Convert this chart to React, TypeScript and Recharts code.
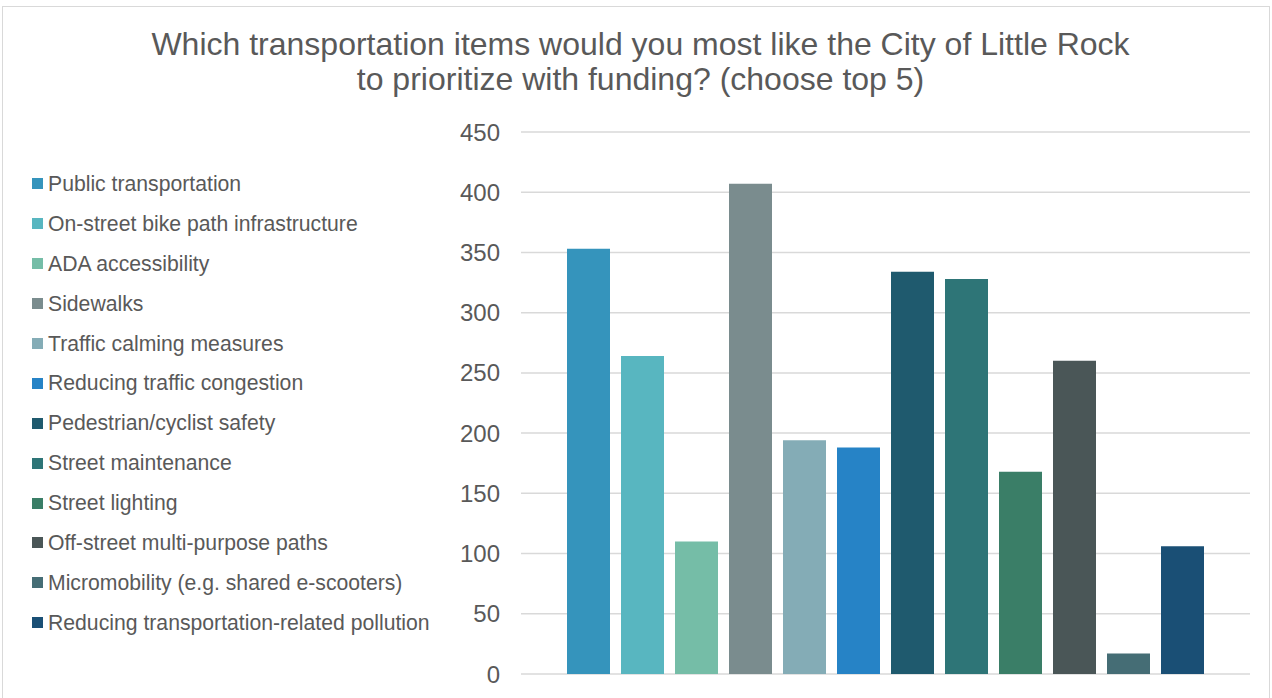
import React from "react";
import { BarChart, Bar, XAxis, YAxis, CartesianGrid } from "recharts";

// 항목 이름, 값, 색상
const ITEMS = [
  "Public transportation",
  "On-street bike path infrastructure",
  "ADA accessibility",
  "Sidewalks",
  "Traffic calming measures",
  "Reducing traffic congestion",
  "Pedestrian/cyclist safety",
  "Street maintenance",
  "Street lighting",
  "Off-street multi-purpose paths",
  "Micromobility (e.g. shared e-scooters)",
  "Reducing transportation-related pollution",
];

const VALUES = [353, 264, 110, 407, 194, 188, 334, 328, 168, 260, 17, 106];

const BAR_COLORS = [
  "#3594BC",
  "#58B6C0",
  "#75BDA7",
  "#7A8C8E",
  "#84ACB6",
  "#2683C6",
  "#1F5A6E",
  "#2E7577",
  "#3A7E67",
  "#4A5657",
  "#456D75",
  "#1A4F75",
];

const Y_TICKS = [0, 50, 100, 150, 200, 250, 300, 350, 400, 450];

const TITLE_LINES = [
  "Which transportation items would you most like the City of Little Rock",
  "to prioritize with funding? (choose top 5)",
];

const FONT = "'Liberation Sans', Arial, sans-serif";
const TEXT = "#595959";

// 하나의 카테고리 행에 항목별 키
const row: Record<string, number | string> = { name: "all" };
ITEMS.forEach((item, i) => {
  row[`s${i}`] = VALUES[i];
});
const data = [row];

// 범례 (차트 영역 밖에 HTML로)
function ChartLegend() {
  return (
    <div style={{ position: "absolute", left: 32, top: 164, fontFamily: FONT }}>
      {ITEMS.map((item, i) => (
        <div
          key={item}
          style={{
            display: "flex",
            alignItems: "center",
            height: 39.9,
            fontSize: 21.2,
            color: TEXT,
            whiteSpace: "nowrap",
          }}
        >
          <span
            style={{
              width: 11,
              height: 11,
              backgroundColor: BAR_COLORS[i],
              marginRight: 5,
              display: "inline-block",
            }}
          />
          {item}
        </div>
      ))}
    </div>
  );
}

export default function App() {
  return (
    <div
      style={{
        position: "absolute",
        left: 0,
        top: 0,
        width: 1272,
        height: 698,
        background: "#fff",
        fontFamily: FONT,
        overflow: "hidden",
      }}
    >
      <div
        style={{
          position: "absolute",
          left: 2,
          top: 6,
          width: 1268,
          height: 700,
          border: "1px solid #D9D9D9",
          boxSizing: "border-box",
        }}
      />
      <div
        style={{
          position: "absolute",
          left: 0,
          top: 27,
          width: 1281,
          textAlign: "center",
          fontSize: 32,
          lineHeight: "35px",
          color: TEXT,
        }}
      >
        {TITLE_LINES.map((l) => (
          <div key={l}>{l}</div>
        ))}
      </div>
      <ChartLegend />
      <BarChart
        width={1272}
        height={698}
        data={data}
        margin={{ top: 132, right: 22, bottom: 24, left: 451 }}
        barSize={43}
        barGap={11}
        style={{ position: "absolute", left: 0, top: 0 }}
      >
        <CartesianGrid vertical={false} stroke="#D9D9D9" strokeWidth={1.5} />
        <XAxis dataKey="name" hide />
        <YAxis
          width={70}
          domain={[0, 450]}
          ticks={Y_TICKS}
          axisLine={false}
          tickLine={false}
          tickMargin={15}
          tick={{ fill: TEXT, fontSize: 24, fontFamily: FONT }}
        />
        {ITEMS.map((item, i) => (
          <Bar
            key={item}
            dataKey={`s${i}`}
            name={item}
            fill={BAR_COLORS[i]}
            isAnimationActive={false}
          />
        ))}
      </BarChart>
    </div>
  );
}
